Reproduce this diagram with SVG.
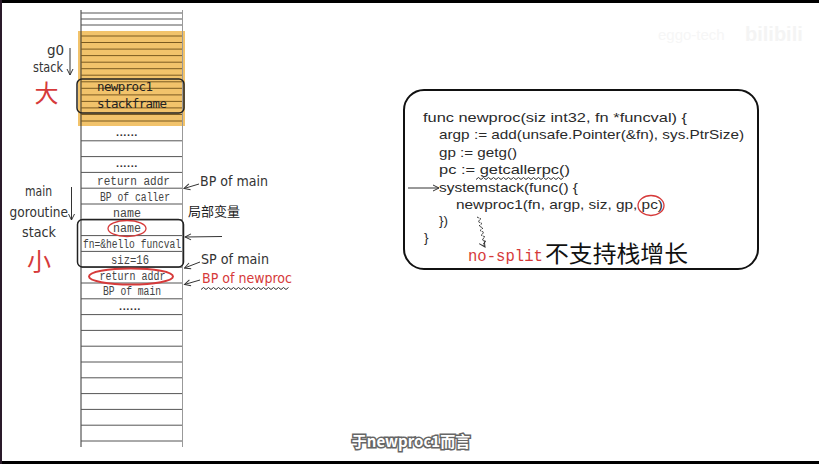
<svg xmlns="http://www.w3.org/2000/svg" width="819" height="464" viewBox="0 0 819 464">
<defs>
<marker id="arr" viewBox="0 0 8 8" refX="7" refY="4" markerWidth="8" markerHeight="8" markerUnits="userSpaceOnUse" orient="auto">
<path d="M1,1 L7,4 L1,7" fill="none" stroke="#333" stroke-width="1"/>
</marker>
<style>
.row{stroke:#555;stroke-width:1}
.orow{stroke:#7a5a20;stroke-width:1}
.cell{font-family:"Liberation Mono",monospace;font-size:12.5px;fill:#444;text-anchor:middle}
.dots{font-family:"Liberation Sans",sans-serif;font-size:11px;font-weight:bold;fill:#333;text-anchor:middle;letter-spacing:0.6px}
.hand{font-family:"DejaVu Sans Mono",monospace;font-size:12.5px;fill:#222}
.lbl{font-family:"DejaVu Sans",sans-serif;font-size:13.5px;fill:#333}
.code{font-family:"Liberation Sans",sans-serif;font-size:13.5px;fill:#2a2a2a}
.cjk{font-family:"Noto Sans CJK SC",sans-serif}
.red{fill:#d63a3a}
.conn{fill:none;stroke:#333;stroke-width:1}
</style>
</defs>
<rect width="819" height="464" fill="#fff"/>
<rect x="0" y="0" width="819" height="3" fill="#000"/>
<rect x="0" y="461" width="819" height="3" fill="#000"/>
<rect x="0" y="0" width="2" height="464" fill="#2a1a2a"/>

<g id="stack">
<rect x="78" y="31" width="107" height="95" fill="#f2c36b"/>
<line x1="81" y1="10" x2="81" y2="447" stroke="#333" stroke-width="1"/>
<line x1="182.5" y1="10" x2="182.5" y2="447" stroke="#999" stroke-width="1"/>
<line class="row" x1="81" y1="13" x2="182" y2="13"/>
<line class="row" x1="81" y1="19" x2="182" y2="19" stroke="#888"/>
<line class="row" x1="81" y1="25" x2="182" y2="25"/>
<g class="orow">
<line x1="81" y1="36" x2="182" y2="36"/><line x1="81" y1="42.5" x2="182" y2="42.5"/>
<line x1="81" y1="49.1" x2="182" y2="49.1"/><line x1="81" y1="55.6" x2="182" y2="55.6"/>
<line x1="81" y1="62.2" x2="182" y2="62.2"/><line x1="81" y1="68.7" x2="182" y2="68.7"/>
<line x1="81" y1="75.2" x2="182" y2="75.2"/><line x1="81" y1="81.8" x2="182" y2="81.8"/>
<line x1="81" y1="88.3" x2="182" y2="88.3"/><line x1="81" y1="94.9" x2="182" y2="94.9"/>
<line x1="81" y1="101.4" x2="182" y2="101.4"/><line x1="81" y1="107.9" x2="182" y2="107.9"/>
<line x1="81" y1="114.5" x2="182" y2="114.5"/><line x1="81" y1="121" x2="182" y2="121"/>
</g>
<g class="row">
<line x1="81" y1="140.8" x2="182" y2="140.8"/><line x1="81" y1="156.6" x2="182" y2="156.6"/>
<line x1="81" y1="172.4" x2="182" y2="172.4"/><line x1="81" y1="188.2" x2="182" y2="188.2"/>
<line x1="81" y1="204" x2="182" y2="204"/><line x1="81" y1="219.8" x2="182" y2="219.8"/>
<line x1="81" y1="235.6" x2="182" y2="235.6"/><line x1="81" y1="251.4" x2="182" y2="251.4"/>
<line x1="81" y1="267.2" x2="182" y2="267.2"/><line x1="81" y1="283" x2="182" y2="283"/>
<line x1="81" y1="298.8" x2="182" y2="298.8"/><line x1="81" y1="314.6" x2="182" y2="314.6"/>
<line x1="81" y1="330.4" x2="182" y2="330.4"/><line x1="81" y1="346.2" x2="182" y2="346.2"/>
<line x1="81" y1="362" x2="182" y2="362"/><line x1="81" y1="377.8" x2="182" y2="377.8"/>
<line x1="81" y1="393.6" x2="182" y2="393.6"/><line x1="81" y1="409.4" x2="182" y2="409.4"/>
<line x1="81" y1="425.2" x2="182" y2="425.2"/><line x1="81" y1="441" x2="182" y2="441"/>
</g>
<text class="dots" x="127" y="136">......</text>
<text class="dots" x="127" y="167">......</text>
<text class="cell" x="133.5" y="184.5" textLength="73" lengthAdjust="spacingAndGlyphs">return addr</text>
<text class="cell" x="135" y="200.5" textLength="70" lengthAdjust="spacingAndGlyphs">BP of caller</text>
<text class="cell" x="127" y="216.5" textLength="28" lengthAdjust="spacingAndGlyphs">name</text>
<text class="cell" x="127" y="232" textLength="28" lengthAdjust="spacingAndGlyphs">name</text>
<text class="cell" x="132" y="248" textLength="98" lengthAdjust="spacingAndGlyphs">fn=&amp;hello funcval</text>
<text class="cell" x="130" y="263.5" textLength="38" lengthAdjust="spacingAndGlyphs">siz=16</text>
<text class="cell" x="132.5" y="279.5" textLength="66" lengthAdjust="spacingAndGlyphs">return addr</text>
<text class="cell" x="132" y="295" textLength="58" lengthAdjust="spacingAndGlyphs">BP of main</text>
<text class="dots" x="130" y="309.5">......</text>
</g>

<g id="newproc1-frame">
<rect x="77" y="79" width="107" height="34" rx="5" fill="none" stroke="#222" stroke-width="1.5"/>
<text class="hand" x="97" y="91" textLength="56">newproc1</text>
<text class="hand" x="97" y="108" textLength="70">stackframe</text>
</g>

<g id="args-box">
<rect x="77.5" y="219.5" width="106" height="47.5" rx="5" fill="none" stroke="#222" stroke-width="1.5"/>
<ellipse cx="127" cy="228.5" rx="19" ry="8" fill="none" stroke="#d63a3a" stroke-width="1.3"/>
<ellipse cx="131" cy="276.5" rx="42" ry="8" fill="none" stroke="#d63a3a" stroke-width="2"/>
</g>

<g id="g0-label">
<text class="lbl" x="47" y="55">g0</text>
<text class="lbl" x="33" y="72" textLength="30" lengthAdjust="spacingAndGlyphs">stack</text>
<text class="cjk red" x="46.5" y="102" font-size="24" text-anchor="middle">大</text>
</g>
<g id="main-label">
<text class="lbl" x="25" y="196" textLength="27" lengthAdjust="spacingAndGlyphs">main</text>
<text class="lbl" x="9.5" y="216.5" textLength="58.5" lengthAdjust="spacingAndGlyphs">goroutine</text>
<text class="lbl" x="22" y="236.5" textLength="34" lengthAdjust="spacingAndGlyphs">stack</text>
<text class="cjk red" x="39" y="270" font-size="24" text-anchor="middle">小</text>
</g>

<g id="stack-notes">
<text class="lbl" x="200" y="186" textLength="68" lengthAdjust="spacingAndGlyphs">BP of main</text>
<text class="cjk" x="188" y="216" font-size="13" fill="#222">局部变量</text>
<text class="lbl" x="201" y="264" textLength="68" lengthAdjust="spacingAndGlyphs">SP of main</text>
<text class="lbl red" x="202" y="283" textLength="90" lengthAdjust="spacingAndGlyphs">BP of newproc</text>
</g>

<g id="code-box">
<rect x="404" y="90" width="354" height="179" rx="20" fill="#fff" stroke="#111" stroke-width="2"/>
<text class="code" x="423" y="122" textLength="264" lengthAdjust="spacingAndGlyphs">func newproc(siz int32, fn *funcval) {</text>
<text class="code" x="439" y="139" textLength="305" lengthAdjust="spacingAndGlyphs">argp := add(unsafe.Pointer(&amp;fn), sys.PtrSize)</text>
<text class="code" x="439" y="157" textLength="78" lengthAdjust="spacingAndGlyphs">gp := getg()</text>
<text class="code" x="439" y="174" textLength="131" lengthAdjust="spacingAndGlyphs">pc := getcallerpc()</text>
<text class="code" x="439" y="192" textLength="139" lengthAdjust="spacingAndGlyphs">systemstack(func() {</text>
<text class="code" x="456" y="209" textLength="207" lengthAdjust="spacingAndGlyphs">newproc1(fn, argp, siz, gp, pc)</text>
<text class="code" x="439" y="225">})</text>
<text class="code" x="424" y="242">}</text>
<ellipse cx="651" cy="205.5" rx="13" ry="10" fill="none" stroke="#d63a3a" stroke-width="1.3"/>
<text x="468" y="261" font-family="Liberation Mono, monospace" font-size="15.6" fill="#d63a3a">no-split</text>
<text class="cjk" x="545" y="262" font-size="23" fill="#111" textLength="143" lengthAdjust="spacingAndGlyphs">不支持栈增长</text>
</g>

<g id="connectors">
<line class="conn" x1="70" y1="48" x2="70" y2="75" marker-end="url(#arr)"/>
<line class="conn" x1="71.5" y1="187" x2="71.5" y2="220" marker-end="url(#arr)"/>
<line class="conn" x1="199" y1="184" x2="184" y2="188.5" marker-end="url(#arr)"/>
<line class="conn" x1="222" y1="236.5" x2="185" y2="237" marker-end="url(#arr)"/>
<line class="conn" x1="200" y1="262" x2="184.5" y2="268" marker-end="url(#arr)"/>
<line class="conn" x1="200" y1="280" x2="184.5" y2="284.5" marker-end="url(#arr)"/>
<path class="conn" d="M201,289.5 l2.5,-2 l2.5,2 l2.5,-2 l2.5,2 l2.5,-2 l2.5,2 l2.5,-2 l2.5,2 l2.5,-2 l2.5,2 l2.5,-2 l2.5,2 l2.5,-2 l2.5,2 l2.5,-2 l2.5,2 l2.5,-2 l2.5,2 l2.5,-2 l2.5,2 l2.5,-2 l2.5,2 l2.5,-2 l2.5,2 l2.5,-2 l2.5,2 l2.5,-2 l2.5,2 l2.5,-2 l2.5,2 l2.5,-2 l2.5,2 l2.5,-2 l2.5,2 l2.5,-2" stroke-width="1.2"/>
<path class="conn" d="M476,179.5 l2.5,-2 l2.5,2 l2.5,-2 l2.5,2 l2.5,-2 l2.5,2 l2.5,-2 l2.5,2 l2.5,-2 l2.5,2 l2.5,-2 l2.5,2 l2.5,-2 l2.5,2 l2.5,-2 l2.5,2 l2.5,-2 l2.5,2 l2.5,-2 l2.5,2 l2.5,-2 l2.5,2 l2.5,-2 l2.5,2 l2.5,-2 l2.5,2 l2.5,-2 l2.5,2 l2.5,-2 l2.5,2 l2.5,-2 l2.5,2 l2.5,-2 l2.5,2 l2.5,-2" stroke-width="1"/>
<line class="conn" x1="408" y1="188" x2="439" y2="188" marker-end="url(#arr)"/>
<path class="conn" d="M477,217 l4,2 l-3,2.5 l4,2 l-3,2.5 l4,2 l-3,2.5 l4,2 l-3,2.5 l4,2 l-3,2.5 l4,2 l-3,2.5 l2,3" stroke-dasharray="2,1" marker-end="url(#arr)"/>
</g>

<g id="subtitle">
<text x="411" y="447" font-family="Noto Sans CJK SC, sans-serif" font-size="15" font-weight="bold" fill="#fff" stroke="#666" stroke-width="3" paint-order="stroke" text-anchor="middle">于newproc1而言</text>
</g>
<g id="watermark">
<text x="658" y="40" font-family="Liberation Sans, sans-serif" font-size="15" fill="#f6f6f6">eggo-tech</text>
<text x="745" y="41" font-family="Liberation Sans, sans-serif" font-size="20" font-weight="bold" fill="#f4f4f4">bilibili</text>
</g>
</svg>
